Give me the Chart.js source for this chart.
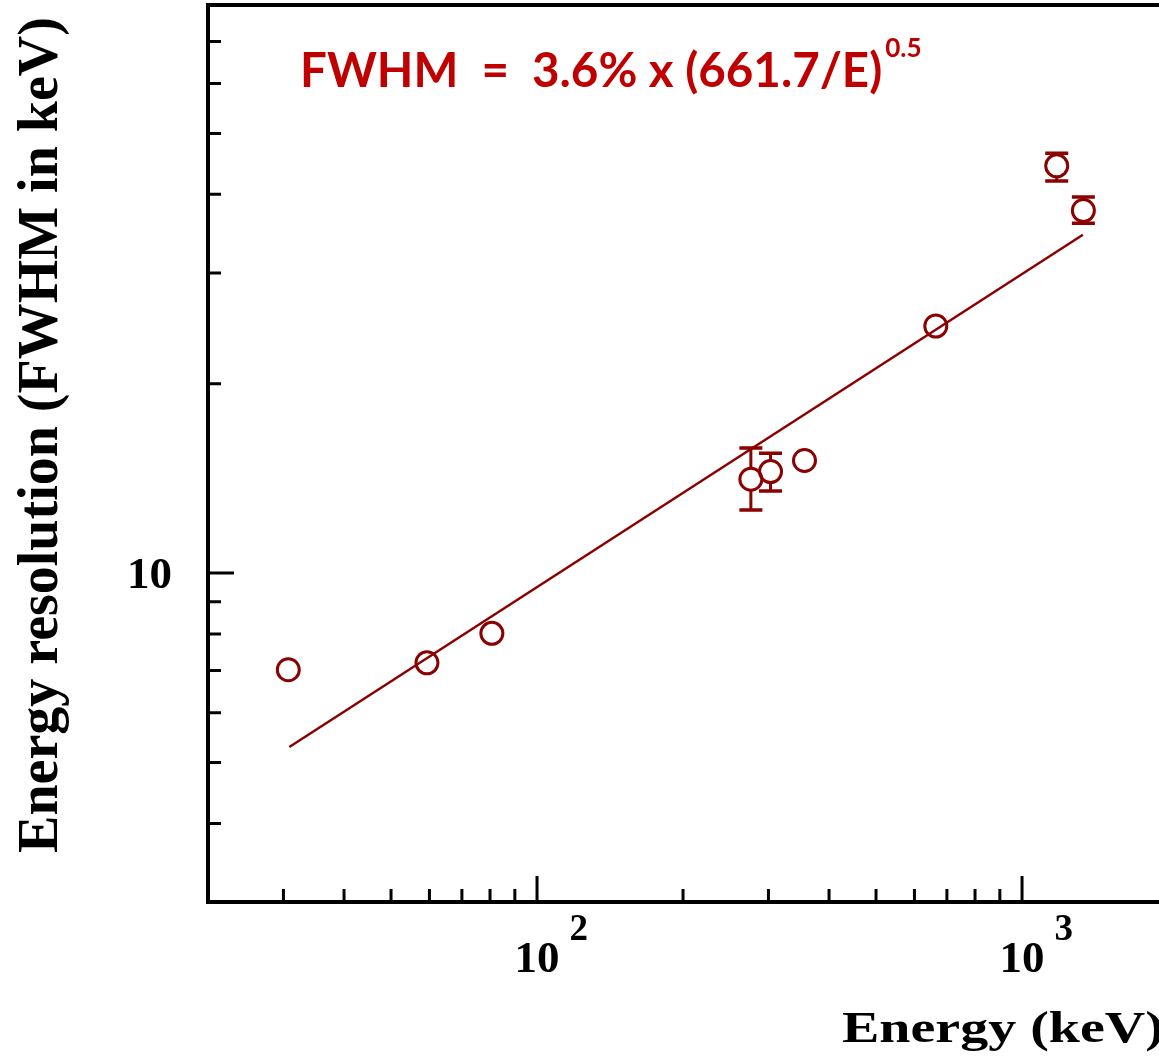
<!DOCTYPE html>
<html>
<head>
  <title>Energy resolution</title>
  <script src="https://cdn.jsdelivr.net/npm/chart.js"></script>
  <style>
    body { margin: 0; background: #fff; overflow: hidden; }
  </style>
</head>
<body>
  <canvas id="chart" width="1159" height="1061"></canvas>

  <script>
    // measured points: energy (keV) and resolution (FWHM in keV)
    var energy = [30.7, 59.3, 80.7, 276, 303, 356, 664, 1179, 1338];
    var fwhm = [7.02, 7.2, 8.02, 14.1, 14.5, 15.1, 24.7, 44.4, 37.7];
    var errLow = [null, null, null, 12.6, 13.5, null, null, 42.0, 36.0];
    var errHigh = [null, null, null, 15.8, 15.5, null, null, 46.5, 39.6];

    // fitted curve, read at its two ends
    var fitEnergy = [30.85, 1335];
    var fitFwhm = [5.29, 34.5];

    // axis ticks
    var xMajorTicks = [100, 1000];
    var xTickBase = ['10', '10'];
    var xTickExp = ['2', '3'];
    var xMinorTicks = [30, 40, 50, 60, 70, 80, 90, 200, 300, 400, 500, 600, 700, 800, 900];
    var yMajorTicks = [10];
    var yTickLabels = ['10'];
    var yMinorTicks = [4, 5, 6, 7, 8, 9, 20, 30, 40, 50, 60, 70];

    var xTitle = 'Energy (keV)';
    var yTitle = 'Energy resolution (FWHM in keV)';
    var fitText = 'FWHM  =  3.6% x (661.7/E)';
    var fitExp = '0.5';

    var markColor = '#8b0000';
    var noteColor = '#c00000';

    var ctx = document.getElementById('chart').getContext('2d');

    // error bars, inward ticks, labels and titles
    var extras = {
      id: 'extras',
      afterDatasetsDraw: function (chart) {
        var c = chart.ctx, xs = chart.scales.x, ys = chart.scales.y;
        var r = 11, cap = 11.5;
        c.save();
        c.strokeStyle = markColor;
        for (var i = 0; i < energy.length; i++) {
          if (errLow[i] == null) continue;
          var px = xs.getPixelForValue(energy[i]);
          var py = ys.getPixelForValue(fwhm[i]);
          var top = ys.getPixelForValue(errHigh[i]);
          var bot = ys.getPixelForValue(errLow[i]);
          c.lineWidth = 3;
          c.beginPath();
          if (top < py - r) { c.moveTo(px, top); c.lineTo(px, py - r); }
          if (bot > py + r) { c.moveTo(px, bot); c.lineTo(px, py + r); }
          c.stroke();
          c.lineWidth = 3.5;
          c.beginPath();
          c.moveTo(px - cap, top); c.lineTo(px + cap, top);
          c.moveTo(px - cap, bot); c.lineTo(px + cap, bot);
          c.stroke();
        }
        c.restore();
      },
      afterDraw: function (chart) {
        var c = chart.ctx, a = chart.chartArea, xs = chart.scales.x, ys = chart.scales.y;
        c.save();
        c.strokeStyle = '#000';
        c.lineWidth = 4;
        c.beginPath();
        c.moveTo(a.left, a.top); c.lineTo(a.left, a.bottom); c.lineTo(a.right, a.bottom);
        c.moveTo(a.left - 2, a.top); c.lineTo(a.right, a.top);
        c.stroke();

        c.lineWidth = 3;
        c.beginPath();
        xMinorTicks.forEach(function (v) {
          var p = xs.getPixelForValue(v);
          c.moveTo(p, a.bottom); c.lineTo(p, a.bottom - 13);
        });
        xMajorTicks.forEach(function (v) {
          var p = xs.getPixelForValue(v);
          c.moveTo(p, a.bottom); c.lineTo(p, a.bottom - 26);
        });
        yMinorTicks.forEach(function (v) {
          var p = ys.getPixelForValue(v);
          c.moveTo(a.left, p); c.lineTo(a.left + 13, p);
        });
        yMajorTicks.forEach(function (v) {
          var p = ys.getPixelForValue(v);
          c.moveTo(a.left, p); c.lineTo(a.left + 26, p);
        });
        c.stroke();

        // tick labels
        c.fillStyle = '#000';
        c.textBaseline = 'alphabetic';
        xMajorTicks.forEach(function (v, i) {
          var p = xs.getPixelForValue(v);
          c.font = 'bold 45px "Liberation Serif"';
          c.textAlign = 'center';
          c.fillText(xTickBase[i], p, 972);
          var w = c.measureText(xTickBase[i]).width;
          c.font = 'bold 37px "Liberation Serif"';
          c.textAlign = 'left';
          c.fillText(xTickExp[i], p + w / 2 + 10, 940);
        });
        c.font = 'bold 45px "Liberation Serif"';
        c.textAlign = 'right';
        yMajorTicks.forEach(function (v, i) {
          c.fillText(yTickLabels[i], a.left - 36, ys.getPixelForValue(v) + 15);
        });

        // axis titles
        c.font = 'bold 56px "Liberation Serif"';
        c.textAlign = 'left';
        c.save();
        c.translate(842, 1042);
        c.scale(1, 0.81);
        c.fillText(xTitle, 0, 0);
        c.restore();

        c.save();
        c.translate(57, 435);
        c.rotate(-Math.PI / 2);
        c.textAlign = 'center';
        c.fillText(yTitle, 0, 0);
        c.restore();

        // fit formula
        c.fillStyle = noteColor;
        c.textAlign = 'left';
        c.font = 'bold 50px Lato';
        var size = 50 * 582 / c.measureText(fitText).width;
        c.font = 'bold ' + size.toFixed(1) + 'px Lato';
        c.fillText(fitText, 300, 87);
        var tw = c.measureText(fitText).width;
        c.font = 'bold ' + (size * 0.55).toFixed(1) + 'px Lato';
        c.fillText(fitExp, 300 + tw + 3, 57);
        c.restore();
      }
    };

    var points = energy.map(function (e, i) { return { x: e, y: fwhm[i] }; });
    var fitLine = fitEnergy.map(function (e, i) { return { x: e, y: fitFwhm[i] }; });

    var chart = new Chart(ctx, {
      type: 'scatter',
      data: {
        datasets: [
          {
            label: 'Fit',
            type: 'line',
            data: fitLine,
            borderColor: markColor,
            borderWidth: 2.5,
            pointRadius: 0,
            fill: false
          },
          {
            label: 'Measured',
            data: points,
            pointStyle: 'circle',
            pointRadius: 11,
            pointBorderWidth: 3,
            borderColor: markColor,
            backgroundColor: 'rgba(0,0,0,0)'
          }
        ]
      },
      options: {
        responsive: false,
        animation: false,
        layout: { autoPadding: false, padding: { top: 5, left: 0, right: 0, bottom: 0 } },
        plugins: {
          legend: { display: false },
          tooltip: { enabled: false }
        },
        scales: {
          x: {
            type: 'logarithmic',
            min: 20.97,
            max: 1916,
            grid: { display: false },
            border: { display: false },
            ticks: { display: false },
            afterFit: function (s) { s.height = 159; }
          },
          y: {
            type: 'logarithmic',
            min: 3,
            max: 80,
            grid: { display: false },
            border: { display: false },
            ticks: { display: false },
            afterFit: function (s) { s.width = 208; }
          }
        }
      },
      plugins: [extras]
    });
  </script>
</body>
</html>
